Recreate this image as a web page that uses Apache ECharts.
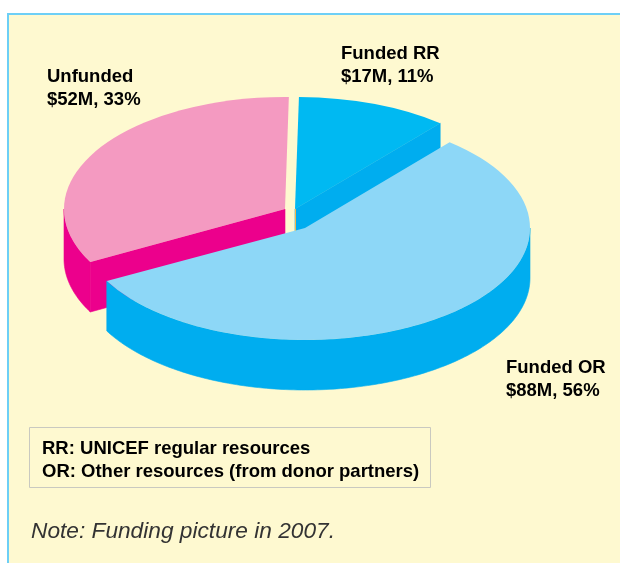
<!DOCTYPE html>
<html><head><meta charset="utf-8">
<style>html,body{margin:0;padding:0;background:#fff}#c{width:620px;height:563px}</style>
<script src="https://cdn.jsdelivr.net/npm/echarts@6/dist/echarts.min.js"></script>
</head><body><div id="c"></div>
<script>
const categories = ['Funded RR', 'Funded OR', 'Unfunded'];
const amounts = [17, 88, 52];
const percents = [11, 56, 33];
const legendLines = ['RR: UNICEF regular resources', 'OR: Other resources (from donor partners)'];
const noteText = 'Note: Funding picture in 2007.';

const topColors = ['#00B9F2', '#8DD7F7', '#F49AC1'];
const wallColors = ['#00ADEF', '#00ADEF', '#EC008C'];
const seamColors = ['#F7B74A', null, null];
const centers = [[295, 209], [305, 228], [285, 209]];
const radiiX = [226, 225, 221];
const radiusY = 112, depth = 50;
const labelPos = [[341, 65.5], [506, 379.5], [47, 88.5]];
const startDeg = -89;
const drawOrder = [2, 0, 1];
const labelFont = 'bold 18.5px "Liberation Sans"';

const total = amounts.reduce((a, b) => a + b, 0);
const rad = d => d * Math.PI / 180;

function startOf(i) {
  let a0 = startDeg;
  for (let k = 0; k < i; k++) a0 += amounts[k] / total * 360;
  return a0;
}

function renderItem(params, api) {
  const i = api.value(0), v = api.value(1);
  const a0 = rad(startOf(i)), a1 = a0 + v / total * Math.PI * 2;
  const c = centers[i], rx = radiiX[i];
  const pt = (a, d) => [c[0] + rx * Math.cos(a), c[1] + radiusY * Math.sin(a) + d];
  const children = [];
  const wall = { fill: wallColors[i], stroke: wallColors[i], lineWidth: 0.6 };
  // outer wall: the part of the rim facing the viewer
  [[0, Math.PI], [Math.PI * 2, Math.PI * 3]].forEach(r => {
    const s = Math.max(a0, r[0]), e = Math.min(a1, r[1]);
    if (e <= s) return;
    const top = [], bot = [];
    const n = Math.ceil((e - s) / rad(1));
    for (let k = 0; k <= n; k++) {
      const a = s + (e - s) * k / n;
      top.push(pt(a, 0)); bot.unshift(pt(a, depth));
    }
    children.push({ type: 'polygon', shape: { points: top.concat(bot) }, style: wall });
  });
  // cut faces turned toward the viewer
  const faces = [];
  if (Math.sin(a0) > 0 && Math.cos(a0) < 0) faces.push(a0);
  if (Math.sin(a1) < 0 && Math.cos(a1) > 0.1) faces.push(a1);
  faces.forEach(a => {
    children.push({ type: 'polygon', shape: { points: [c, pt(a, 0), pt(a, depth), [c[0], c[1] + depth]] }, style: wall });
  });
  if (seamColors[i]) {
    children.push({ type: 'line', shape: { x1: c[0] + 0.5, y1: c[1], x2: c[0] + 0.5, y2: c[1] + depth }, style: { stroke: seamColors[i], lineWidth: 1 } });
  }
  // top face: a sector squashed into an ellipse
  children.push({
    type: 'sector', x: c[0], y: c[1], scaleX: 1, scaleY: radiusY / rx,
    shape: { cx: 0, cy: 0, r0: 0, r: rx, startAngle: a0, endAngle: a1, clockwise: true },
    style: { fill: topColors[i], lineWidth: 0 }
  });
  return { type: 'group', children };
}

const labelText = categories.map((n, i) => ({
  type: 'text', z: 5, x: labelPos[i][0], y: labelPos[i][1],
  style: { text: n + '\n$' + amounts[i] + 'M, ' + percents[i] + '%', font: labelFont, lineHeight: 23, fill: '#000', verticalAlign: 'middle' }
}));

const chart = echarts.init(document.getElementById('c'), null, { renderer: 'canvas' });
chart.setOption({
  animation: false,
  backgroundColor: '#fff',
  graphic: { elements: [
    { type: 'rect', z: -10, shape: { x: 8, y: 14, width: 640, height: 600 }, style: { fill: '#FEF9D0', stroke: '#6DCFF6', lineWidth: 2 } },
    { type: 'rect', z: 5, shape: { x: 29.5, y: 427.5, width: 401, height: 60 }, style: { fill: 'none', stroke: '#C9C9C0', lineWidth: 1 } },
    { type: 'text', z: 5, x: 42, y: 460, style: { text: legendLines.join('\n'), font: labelFont, lineHeight: 23, fill: '#000', verticalAlign: 'middle' } },
    { type: 'text', z: 5, x: 31, y: 532, style: { text: noteText, font: 'italic 22.7px "Liberation Sans"', fill: '#333', verticalAlign: 'middle' } }
  ].concat(labelText) },
  series: [{
    type: 'custom', coordinateSystem: 'none', silent: true, z: 2,
    renderItem,
    data: drawOrder.map(i => [i, amounts[i]])
  }]
});
</script></body></html>
